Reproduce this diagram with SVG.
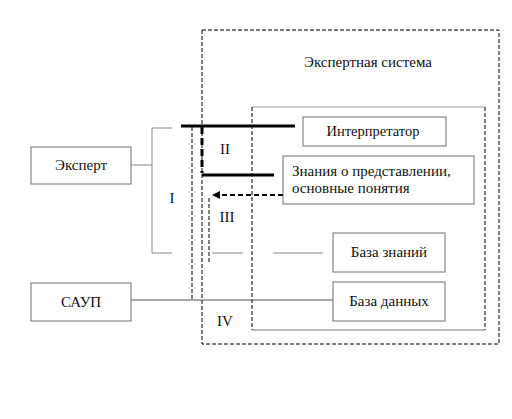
<svg xmlns="http://www.w3.org/2000/svg" width="512" height="419" viewBox="0 0 512 419">
<style>
.box{fill:#fff;stroke:#6e6e6e;stroke-width:1}
.t{font-family:"Liberation Serif","Times New Roman",serif;font-size:15px;fill:#111}
.c{text-anchor:middle}
.dash{fill:none;stroke:#000;stroke-width:1;stroke-dasharray:4 2}
.gray{fill:none;stroke:#b0b0b0;stroke-width:1.5}
.thin{fill:none;stroke:#555;stroke-width:1}
.thick{fill:none;stroke:#000;stroke-width:3}
</style>
<defs>
<marker id="ah" markerWidth="8" markerHeight="8" refX="7" refY="4" orient="auto" markerUnits="userSpaceOnUse">
<path d="M0,0 L8,4 L0,8 z" fill="#000"/>
</marker>
</defs>
<rect width="512" height="419" fill="#fff"/>
<g id="expert-system">
<rect x="202" y="30" width="297" height="314" class="dash"/>
<text x="368" y="67" class="t c">Экспертная система</text>
</g>
<g id="inner-frame">
<line x1="252" y1="107" x2="485" y2="107" stroke="#999" stroke-width="1"/>
<line x1="252" y1="330" x2="485" y2="330" stroke="#777" stroke-width="1"/>
<line x1="252" y1="107" x2="252" y2="330" class="dash"/>
<line x1="485" y1="107" x2="485" y2="330" class="dash"/>
</g>
<g id="connectors">
<polyline points="172,128 152,128 152,253 172,253" class="thin" style="stroke:#888"/>
<line x1="212" y1="253" x2="243" y2="253" class="gray"/>
<line x1="273" y1="253" x2="323" y2="253" class="gray"/>
<line x1="131" y1="165" x2="152" y2="165" class="thin" style="stroke:#888"/>
<line x1="131" y1="300" x2="333" y2="300" class="thin"/>
<line x1="192" y1="127" x2="192" y2="300" class="dash"/>
<line x1="181" y1="126" x2="295" y2="126" class="thick"/>
<line x1="202" y1="175" x2="274" y2="175" class="thick"/>
<line x1="202" y1="127" x2="202" y2="173" stroke="#000" stroke-width="3" stroke-dasharray="7 4"/>
<line x1="283" y1="195" x2="213" y2="195" stroke="#000" stroke-width="2" stroke-dasharray="5 3" marker-end="url(#ah)"/>
<line x1="209" y1="198" x2="209" y2="263" class="dash"/>
<text x="172" y="203" class="t c">I</text>
<text x="225" y="154" class="t c">II</text>
<text x="227" y="222" class="t c">III</text>
<text x="225" y="326" class="t c">IV</text>
</g>
<g id="expert">
<rect x="31" y="147" width="100" height="37" class="box"/>
<text x="81" y="170" class="t c">Эксперт</text>
</g>
<g id="saup">
<rect x="31" y="283" width="100" height="38" class="box"/>
<text x="81" y="307" class="t c">САУП</text>
</g>
<g id="interpreter">
<rect x="303" y="117" width="143" height="29" class="box"/>
<text x="373" y="136" class="t c" style="font-size:14.5px">Интерпретатор</text>
</g>
<g id="knowledge-repr">
<rect x="283" y="156" width="191" height="48" class="box"/>
<text x="292" y="176" class="t">Знания о представлении,</text>
<text x="292" y="193" class="t">основные понятия</text>
</g>
<g id="knowledge-base">
<rect x="333" y="233" width="112" height="39" class="box"/>
<text x="389" y="257" class="t c">База знаний</text>
</g>
<g id="database">
<rect x="333" y="282" width="112" height="39" class="box"/>
<text x="389" y="306" class="t c">База данных</text>
</g>
</svg>
